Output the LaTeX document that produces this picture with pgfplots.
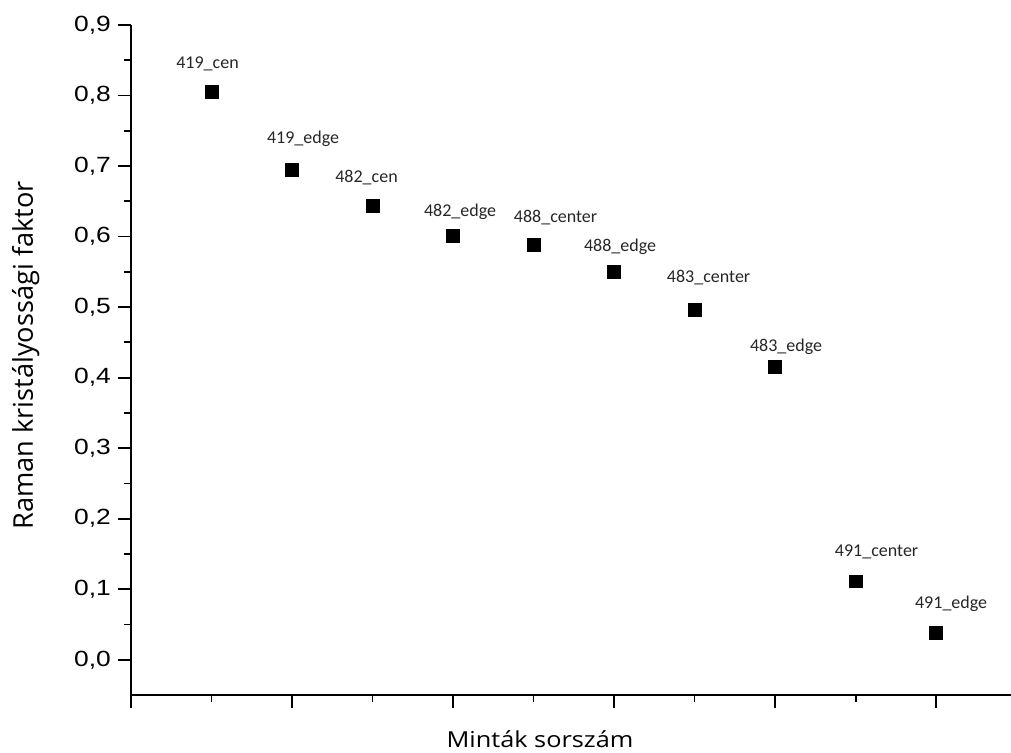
\documentclass[border=0pt]{standalone}
\usepackage{fontspec}
\usepackage{pgfplots}
\usepackage{pgfplotstable}
\pgfplotsset{compat=1.18}
\newfontfamily\tickfont{Liberation Sans}[FakeStretch=1.2]
\newfontfamily\labfont{Open Sans}[FakeStretch=1.15]
\newfontfamily\ylabfont{Open Sans}
\newfontfamily\ptfont{Carlito}

\pgfplotstableread{
x y dx dy label
1 0.805 -2 12 419\_cen
2 0.694 5.5 13.5 419\_edge
3 0.643 -3 12 482\_cen
4 0.601 3.5 9.5 482\_edge
5 0.588 11 11.5 488\_center
6 0.550 3 10 488\_edge
7 0.496 7 13.5 483\_center
8 0.415 5.5 8 483\_edge
9 0.111 10.5 12.5 491\_center
10 0.038 7.5 12 491\_edge
}\datatable

\begin{document}
\begin{tikzpicture}
\useasboundingbox (-65.5pt,-28.5pt) rectangle (440pt,347.5pt);
\begin{axis}[
  at={(0,0)}, anchor=south west,
  scale only axis,
  width=440pt, height=335pt,
  xmin=0, xmax=10.93,
  ymin=-0.05, ymax=0.9,
  axis lines=left,
  axis line style={-, line width=1pt, black},
  tick align=outside,
  major tick length=6.5pt,
  minor tick length=3.5pt,
  tick style={line width=0.9pt, black},
  xtick={0,2,4,6,8,10},
  minor xtick={1,3,5,7,9},
  xticklabels={},
  ytick={0,0.1,0.2,0.3,0.4,0.5,0.6,0.7,0.8,0.9},
  minor ytick={0.05,0.15,0.25,0.35,0.45,0.55,0.65,0.75,0.85},
  yticklabel style={font=\tickfont\fontsize{11}{13}\selectfont, anchor=east},
  /pgf/number format/.cd, use comma, fixed, fixed zerofill, precision=1, assume math mode=true,
  /pgfplots/.cd,
  xlabel={Minták sorszám},
  ylabel={Raman kristályossági faktor},
  every axis x label/.style={at={(axis description cs:0.4648,-0.0776)}, anchor=base, font=\labfont\fontsize{11}{13}\selectfont},
  every axis y label/.style={at={(axis description cs:-0.1114,0.507)}, rotate=90, anchor=base, font=\ylabfont\fontsize{13.6}{16}\selectfont},
  clip=false,
]
\addplot[only marks, mark=square*, mark size=3.2pt, black,
  point meta=explicit symbolic,
  visualization depends on={\thisrow{dx} \as \dx},
  visualization depends on={\thisrow{dy} \as \dy},
  nodes near coords,
  nodes near coords style={anchor=base, xshift=\dx pt, yshift=\dy pt, inner sep=0pt, font=\ptfont\fontsize{9}{10}\selectfont, text=black!85},
] table[x=x, y=y, meta=label] {\datatable};
\end{axis}
\end{tikzpicture}
\end{document}
